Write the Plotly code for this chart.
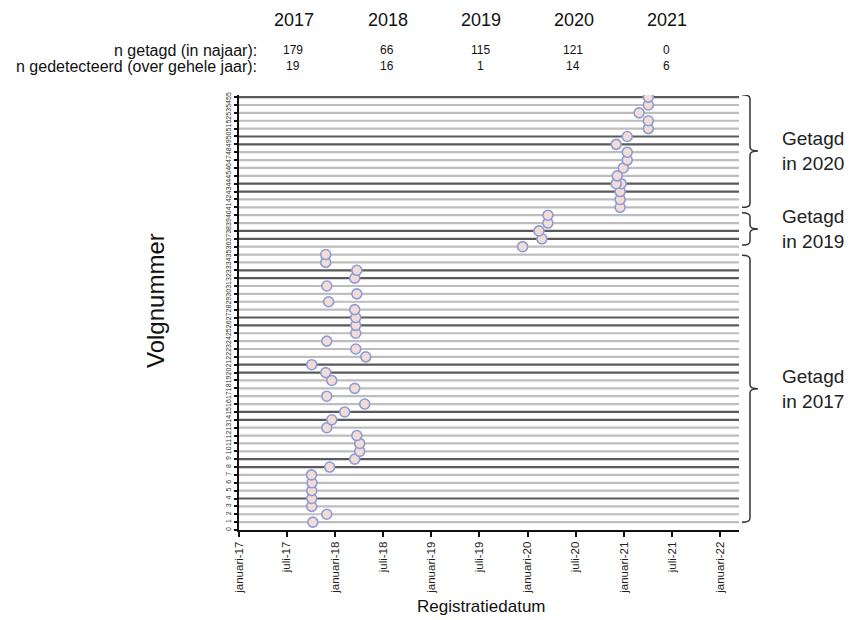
import plotly.graph_objects as go

# ---------------- data ----------------
volgnummer = [1, 2, 3, 4, 5, 6, 7, 8, 9, 10, 11, 12, 13, 14, 15, 16, 17, 18, 19, 20,
              21, 22, 23, 24, 25, 26, 27, 28, 29, 30, 31, 32, 33, 34, 35,
              36, 37, 38, 39, 40,
              41, 42, 43, 44, 44, 45, 46, 47, 48, 49, 50, 51, 52, 53, 54, 55]
registratiedatum = [
    "2017-10-08", "2017-11-30", "2017-10-04", "2017-10-04", "2017-10-04", "2017-10-05",
    "2017-10-03", "2017-12-11", "2018-03-16", "2018-04-04", "2018-04-04", "2018-03-24",
    "2017-11-30", "2017-12-19", "2018-02-06", "2018-04-23", "2017-11-30", "2018-03-16",
    "2017-12-19", "2017-11-26", "2017-10-04", "2018-04-27", "2018-03-20", "2017-11-30",
    "2018-03-20", "2018-03-20", "2018-03-20", "2018-03-16", "2017-12-07", "2018-03-24",
    "2017-11-30", "2018-03-16", "2018-03-24", "2017-11-26", "2017-11-26",
    "2019-12-13", "2020-02-24", "2020-02-13", "2020-03-18", "2020-03-18",
    "2020-12-17", "2020-12-17", "2020-12-17", "2020-12-21", "2020-12-02", "2020-12-06",
    "2020-12-29", "2021-01-13", "2021-01-13", "2020-12-02", "2021-01-13", "2021-04-03",
    "2021-04-03", "2021-02-27", "2021-04-03", "2021-04-03"]

rows = list(range(1, 56))
dark_rows = [4, 8, 9, 14, 15, 20, 21, 26, 27, 32, 33, 37, 38, 43, 44, 49, 50, 55]

jaren = ["2017", "2018", "2019", "2020", "2021"]
n_getagd = ["179", "66", "115", "121", "0"]
n_gedetecteerd = ["19", "16", "1", "14", "6"]

tick_dates = ["2017-01-01", "2017-07-01", "2018-01-01", "2018-07-01", "2019-01-01",
              "2019-07-01", "2020-01-01", "2020-07-01", "2021-01-01", "2021-07-01",
              "2022-01-01"]
tick_labels = ["januari-17", "juli-17", "januari-18", "juli-18", "januari-19", "juli-19",
               "januari-20", "juli-20", "januari-21", "juli-21", "januari-22"]

groepen = [("Getagd<br>in 2020", 55.3, 41.0), ("Getagd<br>in 2019", 40.3, 36.2),
           ("Getagd<br>in 2017", 34.9, 1.0)]

# ---------------- layout helpers ----------------
OFF = 8  # page body margin
W, H = 856 - OFF, 620 - OFF
L, R, T, B = 239 - OFF, 117, 95 - OFF, 90
PW, PH = W - L - R, H - T - B
x_start, x_end = "2017-01-01", "2022-03-13"


def px(xp):
    """reference pixel x -> paper x"""
    return (xp - OFF - L) / PW


def py(yp):
    """reference pixel y -> paper y"""
    return (H - B - (yp - OFF)) / PH


fig = go.Figure()

# row lines
for shade, color, width in [("light", "#bdbdbd", 2.2), ("dark", "#5a5a5a", 2.2)]:
    xs, ys = [], []
    for r in rows:
        is_dark = r in dark_rows
        if (shade == "dark") == is_dark:
            xs += [x_start, x_end, None]
            ys += [r, r, None]
    fig.add_trace(go.Scatter(x=xs, y=ys, mode="lines", line=dict(color=color, width=width),
                             hoverinfo="skip", showlegend=False))

# detections
fig.add_trace(go.Scatter(
    x=registratiedatum, y=volgnummer, mode="markers",
    marker=dict(size=10, color="#f3dcd6", line=dict(color="#8c9dd4", width=1.6)),
    showlegend=False))

# braces
shapes = []
annotations = []
x0, x1, x2 = px(742), px(750), px(758)
for label, ytop, ybot in groepen:
    ymid = (ytop + ybot) / 2
    d = 0.5
    path = (f"M {x0},{ytop} Q {x1},{ytop} {x1},{ytop - d} "
            f"L {x1},{ymid + d} Q {x1},{ymid} {x2},{ymid} "
            f"Q {x1},{ymid} {x1},{ymid - d} "
            f"L {x1},{ybot + d} Q {x1},{ybot} {x0},{ybot}")
    shapes.append(dict(type="path", xref="paper", yref="y", path=path,
                       line=dict(color="#333333", width=1.5)))
    annotations.append(dict(xref="paper", yref="y", x=px(813), y=ymid, text=label,
                            showarrow=False, font=dict(size=19, color="#222"),
                            align="center", xanchor="center", yanchor="middle"))

# header table
year_px = [294, 388, 481, 574, 667]
for jx, j, a, b in zip(year_px, jaren, n_getagd, n_gedetecteerd):
    annotations.append(dict(xref="paper", yref="paper", x=px(jx), y=py(20), text=j,
                            showarrow=False, font=dict(size=18, color="#111"),
                            xanchor="center", yanchor="middle"))
    annotations.append(dict(xref="paper", yref="paper", x=px(jx - 1), y=py(50), text=a,
                            showarrow=False, font=dict(size=12, color="#111"),
                            xanchor="center", yanchor="middle"))
    annotations.append(dict(xref="paper", yref="paper", x=px(jx - 1), y=py(66), text=b,
                            showarrow=False, font=dict(size=12, color="#111"),
                            xanchor="center", yanchor="middle"))
annotations.append(dict(xref="paper", yref="paper", x=px(259), y=py(50),
                        text="n getagd (in najaar):", showarrow=False,
                        font=dict(size=16, color="#111"), xanchor="right", yanchor="middle"))
annotations.append(dict(xref="paper", yref="paper", x=px(259), y=py(67),
                        text="n gedetecteerd (over gehele jaar):", showarrow=False,
                        font=dict(size=16, color="#111"), xanchor="right", yanchor="middle"))

# axis titles
annotations.append(dict(xref="paper", yref="paper", x=px(155), y=py(301), text="Volgnummer",
                        textangle=-90, showarrow=False, font=dict(size=24, color="#111"),
                        xanchor="center", yanchor="middle"))
annotations.append(dict(xref="paper", yref="paper", x=px(481), y=py(606),
                        text="Registratiedatum", showarrow=False,
                        font=dict(size=17, color="#111"), xanchor="center", yanchor="middle"))

fig.update_layout(
    width=W, height=H,
    margin=dict(l=L, r=R, t=T, b=B),
    paper_bgcolor="white", plot_bgcolor="white",
    font=dict(family="Liberation Sans, Arial, sans-serif", color="#222"),
    shapes=shapes, annotations=annotations,
    xaxis=dict(range=[x_start, x_end], type="date", tickvals=tick_dates, ticktext=tick_labels,
               tickangle=-90, tickfont=dict(size=11.5, color="#222"), showgrid=False,
               zeroline=False, showline=True, linecolor="#111", linewidth=2,
               ticks="outside", ticklen=5, tickwidth=1.5, tickcolor="#111"),
    yaxis=dict(range=[0, 55.27], tickvals=list(range(0, 56)),
               ticktext=[str(v) for v in range(0, 56)], tickangle=-90,
               tickfont=dict(size=7, color="#333"), showgrid=False, zeroline=False,
               showline=True, linecolor="#111", linewidth=2,
               ticks="outside", ticklen=3, tickwidth=1.5, tickcolor="#111"),
)

fig.write_html("out.html")
